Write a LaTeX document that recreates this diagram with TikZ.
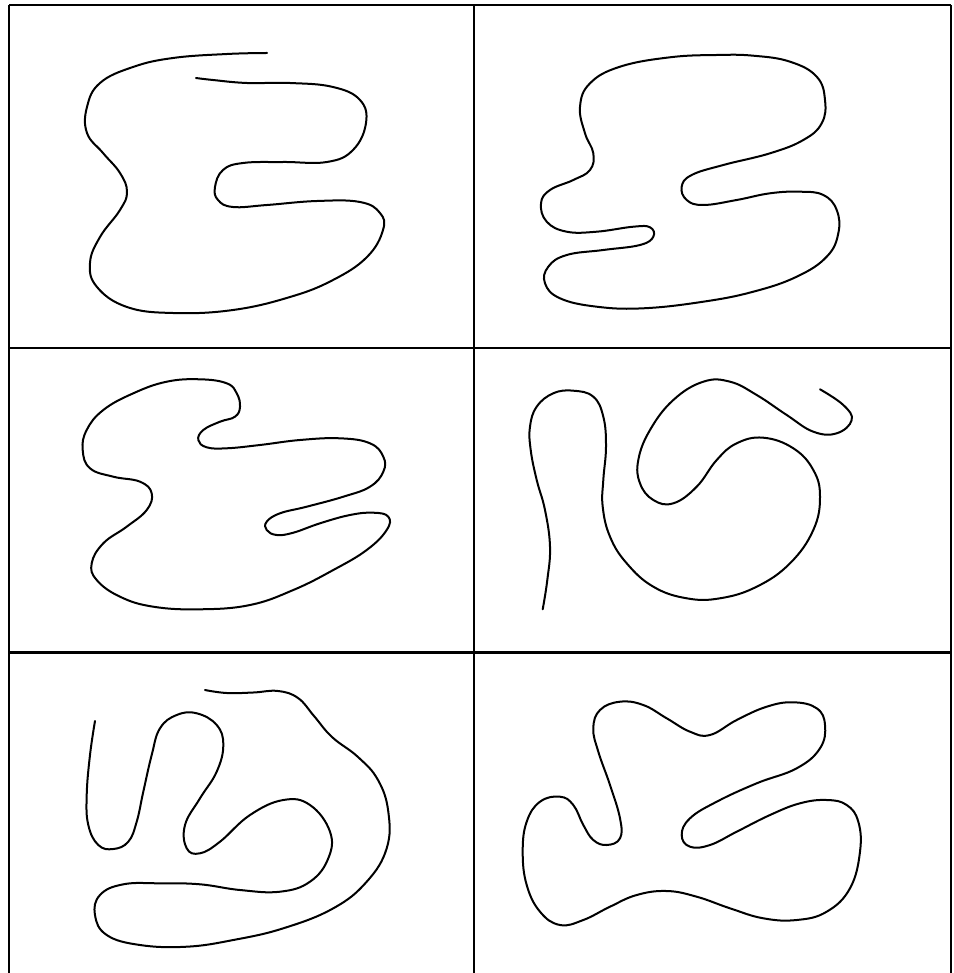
\documentclass[tikz,border=0pt]{standalone}
\usepackage{tikz}
\usetikzlibrary{calc}

\tikzset{
  blob/.style={line width=2pt, line join=round, line cap=round},
  thickrule/.style={line width=2.4pt},
  thinrule/.style={line width=1.4pt}
}

\begin{document}
\begin{tikzpicture}[x=1pt,y=-1pt]
  \useasboundingbox (0,0) rectangle (953,973);

  % frame and grid
  \coordinate (TL) at (9,5);
  \coordinate (TR) at (951,5);
  \coordinate (BL) at (9,973);
  \coordinate (BR) at (951,973);
  \draw[thickrule] (TL) -- (TR);
  \draw[thinrule] (TL) -- (BL);
  \draw[thinrule] (TR) -- (BR);
  \draw[thickrule] (474,5) -- (474,973);
  \draw[thinrule] (9,348) -- (951,348);
  \draw[thickrule] (9,652.5) -- (951,652.5);

  % panel 1 (open)
  \draw[blob] plot[smooth, tension=0.7] coordinates {
    (267,53) (227,54) (173,58) (133,67) (100,83) (87,107) (87,133)
    (103,153) (120,173) (127,192) (120,210) (100,237) (90,263) (97,287)
    (127,307) (173,313) (233,310) (290,297) (333,280) (367,257) (383,230)
    (380,213) (360,202) (317,201) (267,205) (233,207) (218,200) (215,187)
    (223,170) (243,163) (283,162) (327,162) (353,150) (366,123) (360,100)
    (333,87) (290,83) (247,83) (213,80) (196,78)};

  % panel 2
  \draw[blob] plot[smooth cycle, tension=0.7] coordinates {
    (716.7,55) (670,57.3) (620,66.7) (590,83.3) (580,106.7) (585,133.3)
    (593.3,153.3) (590,170) (573.3,180) (550,190) (541,203.3) (546.7,221.7)
    (566.7,231.7) (596.7,231.7) (633.3,226.7) (650,227.3) (653.3,236.7)
    (640,245) (603.3,250) (566.7,255) (548.3,266.7) (545,283.3) (560,298.3)
    (596.7,306.7) (643.3,308.3) (703.3,301.7) (753.3,291.7) (796.7,276.7)
    (826.7,256.7) (838.3,233.3) (836.7,210) (823.3,195) (800,191.7)
    (770,193.3) (736.7,200) (703.3,205) (686.7,200) (681.7,186.7)
    (691.7,175) (723.3,165) (770,153.3) (803.3,140) (821.7,123.3) (825,100)
    (816.7,76.7) (790,61.7) (753.3,55.7)};

  % panel 3
  \draw[blob] plot[smooth cycle, tension=0.7] coordinates {
    (200,379.3) (166.7,381.7) (133.3,393.3) (103.3,410) (86.7,430)
    (82.7,450) (90,468.3) (113.3,476.7) (140,481.7) (151.7,493.3)
    (146.7,510) (126.7,526.7) (103.3,543.3) (91.7,563.3) (96.7,580)
    (120,596.7) (153.3,606.7) (200,609.3) (250,605) (293.3,590)
    (333.3,570) (366.7,550) (386.7,530) (388.3,516.7) (373.3,512.7)
    (350,515) (320,523.3) (293.3,532.7) (276.7,535) (266.7,530)
    (266.7,521.7) (280,513.3) (306.7,506.7) (343.3,496.7) (370,486.7)
    (383.3,471.7) (383.3,456.7) (370,443.3) (340,438.3) (300,440)
    (260,445) (226.7,448.3) (206.7,447.3) (198.3,440) (203.3,430)
    (220,421.7) (235,416.7) (240,406.7) (236.7,393.3) (226.7,383.3)};

  % panel 4 (open)
  \draw[blob] plot[smooth, tension=0.7] coordinates {
    (542.7,609.3) (547.3,580) (550,546.7) (545,510) (536.7,480)
    (530.7,450) (530,426.7) (536.7,406.7) (553.3,393.3) (573.3,390.7)
    (593.3,396.7) (603.3,416.7) (606,446.7) (603.3,480) (602.7,506.7)
    (610,536.7) (626.7,563.3) (653.3,586.7) (686.7,598.3) (720,598.3)
    (756.7,586.7) (790,563.3) (813.3,530) (820,496.7) (813.3,470)
    (793.3,448.3) (763.3,437.7) (736.7,443.3) (716.7,460) (696.7,486.7)
    (673.3,503.3) (653.3,500) (640,483.3) (638.3,460) (650,430)
    (673.3,400) (703.3,381.7) (730,381.7) (756.7,395) (786.7,415)
    (813.3,431.7) (836.7,433.3) (851.7,420) (843.3,405) (820,389.3)};

  % panel 5 (open)
  \draw[blob] plot[smooth, tension=0.7] coordinates {
    (95,721) (90,755) (86.7,795) (88.3,825) (98.3,845) (113.3,849)
    (128.3,841.7) (136.7,821.7) (143.3,791.7) (151.7,755) (160,728.3)
    (176.7,715) (196.7,713.3) (216.7,725) (223.3,745) (216.7,771.7)
    (200,798.3) (185,825) (186.7,848.3) (200,853.3) (220,841.7)
    (250,815) (283.3,800) (310,805) (330,831.7) (328.3,858.3)
    (310,881.7) (280,891.7) (240,890) (200,884.3) (160,883.3)
    (123.3,884.3) (100,895) (95,915) (106.7,935) (140,945) (186.7,946.7)
    (233.3,940) (283.3,928.3) (333.3,908.3) (366.7,881.7) (386.7,848.3)
    (388.3,811.7) (378,780) (358,757) (332,737) (314,716)
    (298,698) (278,691) (253.3,692.5) (226.7,693) (205,690)};

  % panel 6
  \draw[blob] plot[smooth cycle, tension=0.7] coordinates {
    (620,701.7) (600,710) (593.3,728.3) (598.3,751.7) (610,785)
    (620,818.3) (620,838.3) (606.7,845) (593.3,840) (583.3,825)
    (573.3,805) (560,796.7) (540,801.7) (526.7,821.7) (522.7,851.7)
    (526.7,885) (540,911.7) (560,925) (583.3,920) (610,906.7)
    (636.7,895) (666.7,891) (696.7,896.7) (730,908.3) (763.3,918.3)
    (796.7,920) (826.7,911.7) (850,888.3) (860,851.7) (858.3,821.7)
    (846.7,805) (826.7,800) (800,803.3) (770,815) (736.7,831.7)
    (710,845) (690,846.7) (681.7,835) (690,818.3) (716.7,801.7)
    (756.7,783.3) (796.7,768.3) (820,748.3) (825,725) (816.7,708.3)
    (793.3,702.3) (766.7,706.7) (736.7,720) (710,735) (690,731.7)
    (666.7,718.3) (643.3,705)};
\end{tikzpicture}
\end{document}
